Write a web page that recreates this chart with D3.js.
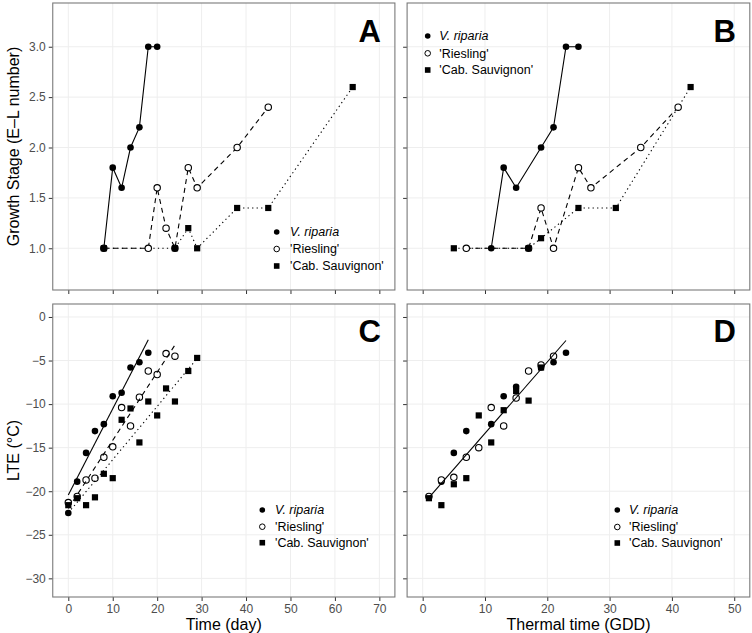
<!DOCTYPE html>
<html><head><meta charset="utf-8">
<script src="https://cdn.jsdelivr.net/npm/d3@7"></script>
<style>
html,body{margin:0;padding:0;background:#fff;}
svg text{font-family:"Liberation Sans",Arial,Helvetica,sans-serif;}
</style></head>
<body><svg id="chart" width="752" height="633"></svg>
<script>
// ---------------- DATA ----------------
const seriesNames = ["V. riparia", "'Riesling'", "'Cab. Sauvignon'"];

// Panel A: growth stage vs time (day)
const ripariaA_day   = [8, 10, 12, 14, 16, 18, 20];
const ripariaA_stage = [1.0, 1.8, 1.6, 2.0, 2.2, 3.0, 3.0];
const rieslingA_day   = [8, 18, 20, 22, 24, 27, 29, 38, 45];
const rieslingA_stage = [1.0, 1.0, 1.6, 1.2, 1.0, 1.8, 1.6, 2.0, 2.4];
const cabA_day   = [8, 24, 27, 29, 38, 45, 64];
const cabA_stage = [1.0, 1.0, 1.2, 1.0, 1.4, 1.4, 2.6];

// Panel B: growth stage vs thermal time (GDD)
const ripariaB_gdd   = [11, 13, 15, 19, 21, 23, 25];
const ripariaB_stage = [1.0, 1.8, 1.6, 2.0, 2.2, 3.0, 3.0];
const rieslingB_gdd   = [7, 17, 19, 21, 25, 27, 35, 41];
const rieslingB_stage = [1.0, 1.0, 1.4, 1.0, 1.8, 1.6, 2.0, 2.4];
const cabB_gdd   = [5, 17, 19, 25, 31, 43];
const cabB_stage = [1.0, 1.0, 1.1, 1.4, 1.4, 2.6];

// Panel C: LTE vs time (day)
const ripariaC_day = [0, 2, 4, 6, 8, 10, 12, 14, 16, 18];
const ripariaC_lte = [-22.5, -18.9, -15.6, -13.1, -12.3, -9.1, -8.7, -5.8, -5.2, -4.1];
const rieslingC_day = [0, 2, 4, 6, 8, 10, 12, 14, 16, 18, 20, 22, 24];
const rieslingC_lte = [-21.3, -20.6, -18.7, -18.5, -16.1, -14.9, -10.4, -12.5, -9.2, -6.2, -6.6, -4.2, -4.5];
const cabC_day = [0, 2, 4, 6, 8, 10, 12, 14, 16, 18, 20, 22, 24, 27, 29];
const cabC_lte = [-21.6, -20.8, -21.6, -20.7, -18.0, -18.5, -11.8, -10.5, -14.4, -9.7, -11.3, -8.2, -9.7, -6.2, -4.7];

// Panel D: LTE vs thermal time (GDD)
const ripariaD_gdd = [1, 3, 5, 7, 11, 13, 15, 19, 21, 23];
const ripariaD_lte = [-20.6, -18.9, -15.6, -13.1, -12.3, -9.1, -8.0, -5.8, -5.2, -4.1];
const rieslingD_gdd = [1, 3, 5, 7, 9, 11, 13, 15, 17, 19, 21];
const rieslingD_lte = [-20.6, -18.7, -18.4, -16.1, -15.0, -10.4, -12.5, -9.3, -6.2, -5.5, -4.5];
const cabD_gdd = [1, 3, 5, 7, 9, 11, 13, 15, 17, 19];
const cabD_lte = [-20.8, -21.6, -19.2, -18.5, -11.3, -14.4, -10.7, -8.5, -9.6, -5.8];

// Tick values
const dayTicks = [0, 10, 20, 30, 40, 50, 60, 70];
const gddTicks = [0, 10, 20, 30, 40, 50];
const stageTicks = [1.0, 1.5, 2.0, 2.5, 3.0];
const lteTicks = [0, -5, -10, -15, -20, -25, -30];

// ---------------- HELPERS ----------------
const zip = (xs, ys) => xs.map((x, i) => ({x: x, y: ys[i]}));
const svg = d3.select("#chart");

const xDay = d3.scaleLinear().domain([-3.5, 73.5]).range([52.75, 394.9]);
const xGdd = d3.scaleLinear().domain([-2.5, 52.5]).range([407.1, 749.8]);
const yStage = d3.scaleLinear().domain([0.586, 3.434]).range([290, 3]);
const yLte = d3.scaleLinear().domain([-32.14, 1.49]).range([597, 304]);

const styles = [
  {shape: "dot",    dash: null},
  {shape: "open",   dash: "5,4"},
  {shape: "square", dash: "1.3,3.2"}
];

function fmtMinus(v){ return (v < 0 ? "\u2212" + Math.abs(v) : String(v)); }

function panel(cfg){
  const {x, y, xt, yt, xLabels, yLabels, yFmt} = cfg;
  const g = svg.append("g");
  const [x0, x1] = x.range();
  const [y0, y1] = y.range();
  g.append("rect").attr("x", x0).attr("y", y1).attr("width", x1 - x0).attr("height", y0 - y1).attr("fill", "#fff");
  g.selectAll(".gx").data(xt).enter().append("line")
    .attr("x1", d => x(d)).attr("x2", d => x(d)).attr("y1", y1).attr("y2", y0)
    .attr("stroke", "#eeeeee").attr("stroke-width", 1);
  g.selectAll(".gy").data(yt).enter().append("line")
    .attr("y1", d => y(d)).attr("y2", d => y(d)).attr("x1", x0).attr("x2", x1)
    .attr("stroke", "#eeeeee").attr("stroke-width", 1);
  const ax = d3.axisBottom(x).tickValues(xt).tickSize(4).tickSizeOuter(0).tickPadding(3)
    .tickFormat(xLabels ? d3.format("d") : () => "");
  const axg = g.append("g").attr("transform", `translate(0,${y0})`).call(ax);
  const ay = d3.axisLeft(y).tickValues(yt).tickSize(4).tickSizeOuter(0).tickPadding(3)
    .tickFormat(yLabels ? yFmt : () => "");
  const ayg = g.append("g").attr("transform", `translate(${x0},0)`).call(ay);
  [axg, ayg].forEach(a => {
    a.select(".domain").remove();
    a.selectAll(".tick line").attr("stroke", "#333").attr("stroke-width", 1);
    a.selectAll(".tick text").attr("fill", "#4d4d4d").style("font-size", "12px");
  });
  return g;
}

function drawPoints(g, x, y, data, st){
  if (st.shape === "dot") {
    g.selectAll(null).data(data).enter().append("circle")
      .attr("cx", d => x(d.x)).attr("cy", d => y(d.y)).attr("r", 3.3).attr("fill", "#000");
  } else if (st.shape === "open") {
    g.selectAll(null).data(data).enter().append("circle")
      .attr("cx", d => x(d.x)).attr("cy", d => y(d.y)).attr("r", 3.2)
      .attr("fill", "#fff").attr("stroke", "#000").attr("stroke-width", 1.1);
  } else {
    const s = 6.2;
    g.selectAll(null).data(data).enter().append("rect")
      .attr("x", d => x(d.x) - s/2).attr("y", d => y(d.y) - s/2).attr("width", s).attr("height", s).attr("fill", "#000");
  }
}

function drawLine(g, pts, st, x, y){
  const line = d3.line().x(d => x(d.x)).y(d => y(d.y));
  const p = g.append("path").datum(pts).attr("d", line).attr("fill", "none")
    .attr("stroke", "#000").attr("stroke-width", 1.1);
  if (st.dash) p.attr("stroke-dasharray", st.dash);
}

function fit(pts){
  const mx = d3.mean(pts, d => d.x), my = d3.mean(pts, d => d.y);
  const sxy = d3.sum(pts, d => (d.x - mx) * (d.y - my));
  const sxx = d3.sum(pts, d => (d.x - mx) ** 2);
  const b = sxy / sxx, a = my - b * mx;
  const ex = d3.extent(pts, d => d.x);
  return ex.map(v => ({x: v, y: a + b * v}));
}

function border(g, x, y){
  const [x0, x1] = x.range(); const [y0, y1] = y.range();
  g.append("rect").attr("x", x0).attr("y", y1).attr("width", x1 - x0).attr("height", y0 - y1)
    .attr("fill", "none").attr("stroke", "#7a7a7a").attr("stroke-width", 1.1);
}

function legend(g, lx, tx, rows){
  rows.forEach((ry, i) => {
    const st = styles[i];
    if (st.shape === "dot") g.append("circle").attr("cx", lx).attr("cy", ry).attr("r", 2.8).attr("fill", "#000");
    else if (st.shape === "open") g.append("circle").attr("cx", lx).attr("cy", ry).attr("r", 2.8).attr("fill", "#fff").attr("stroke", "#000").attr("stroke-width", 1);
    else g.append("rect").attr("x", lx - 2.8).attr("y", ry - 2.8).attr("width", 5.6).attr("height", 5.6).attr("fill", "#000");
    g.append("text").attr("x", tx).attr("y", ry + 4.4).style("font-size", "12.5px").attr("fill", "#000")
      .style("font-style", i === 0 ? "italic" : "normal").text(seriesNames[i]);
  });
}

function tag(g, txt, x, yb){
  g.append("text").attr("x", x).attr("y", yb).attr("text-anchor", "end")
    .style("font-size", "31px").style("font-weight", "bold").attr("fill", "#000").text(txt);
}

// ---------------- PANEL A ----------------
const stageFmt = d3.format(".1f");
{
  const g = panel({x: xDay, y: yStage, xt: dayTicks, yt: stageTicks, xLabels: false, yLabels: true, yFmt: stageFmt});
  const sets = [zip(ripariaA_day, ripariaA_stage), zip(rieslingA_day, rieslingA_stage), zip(cabA_day, cabA_stage)];
  sets.forEach((s, i) => drawLine(g, s, styles[i], xDay, yStage));
  sets.forEach((s, i) => drawPoints(g, xDay, yStage, s, styles[i]));
  border(g, xDay, yStage);
  tag(g, "A", 381, 42);
  legend(g, 276.7, 290, [232, 249, 266]);
}
// ---------------- PANEL B ----------------
{
  const g = panel({x: xGdd, y: yStage, xt: gddTicks, yt: stageTicks, xLabels: false, yLabels: false, yFmt: stageFmt});
  const sets = [zip(ripariaB_gdd, ripariaB_stage), zip(rieslingB_gdd, rieslingB_stage), zip(cabB_gdd, cabB_stage)];
  sets.forEach((s, i) => drawLine(g, s, styles[i], xGdd, yStage));
  sets.forEach((s, i) => drawPoints(g, xGdd, yStage, s, styles[i]));
  border(g, xGdd, yStage);
  tag(g, "B", 736, 42);
  legend(g, 427.7, 439.3, [36, 53.3, 70]);
}
// ---------------- PANEL C ----------------
{
  const g = panel({x: xDay, y: yLte, xt: dayTicks, yt: lteTicks, xLabels: true, yLabels: true, yFmt: fmtMinus});
  const sets = [zip(ripariaC_day, ripariaC_lte), zip(rieslingC_day, rieslingC_lte), zip(cabC_day, cabC_lte)];
  sets.forEach((s, i) => drawPoints(g, xDay, yLte, s, styles[i]));
  sets.forEach((s, i) => drawLine(g, fit(s), styles[i], xDay, yLte));
  border(g, xDay, yLte);
  tag(g, "C", 381, 342);
  legend(g, 262.3, 275, [510, 526.7, 542.7]);
}
// ---------------- PANEL D ----------------
{
  const g = panel({x: xGdd, y: yLte, xt: gddTicks, yt: lteTicks, xLabels: true, yLabels: false, yFmt: fmtMinus});
  const sets = [zip(ripariaD_gdd, ripariaD_lte), zip(rieslingD_gdd, rieslingD_lte), zip(cabD_gdd, cabD_lte)];
  sets.forEach((s, i) => drawPoints(g, xGdd, yLte, s, styles[i]));
  drawLine(g, fit(sets.flat()), styles[0], xGdd, yLte);
  border(g, xGdd, yLte);
  tag(g, "D", 736, 342);
  legend(g, 617.3, 629, [510, 527, 543]);
}

// ---------------- AXIS TITLES ----------------
svg.append("text").attr("transform", "translate(19,146.5) rotate(-90)").attr("text-anchor", "middle")
  .style("font-size", "16px").attr("fill", "#000").text("Growth Stage (E\u2013L number)");
svg.append("text").attr("transform", "translate(19,450.5) rotate(-90)").attr("text-anchor", "middle")
  .style("font-size", "16px").attr("fill", "#000").text("LTE (\u00B0C)");
svg.append("text").attr("x", 223.8).attr("y", 630).attr("text-anchor", "middle")
  .style("font-size", "16px").attr("fill", "#000").text("Time (day)");
svg.append("text").attr("x", 578.5).attr("y", 630).attr("text-anchor", "middle")
  .style("font-size", "16px").attr("fill", "#000").text("Thermal time (GDD)");
</script>
</body></html>
